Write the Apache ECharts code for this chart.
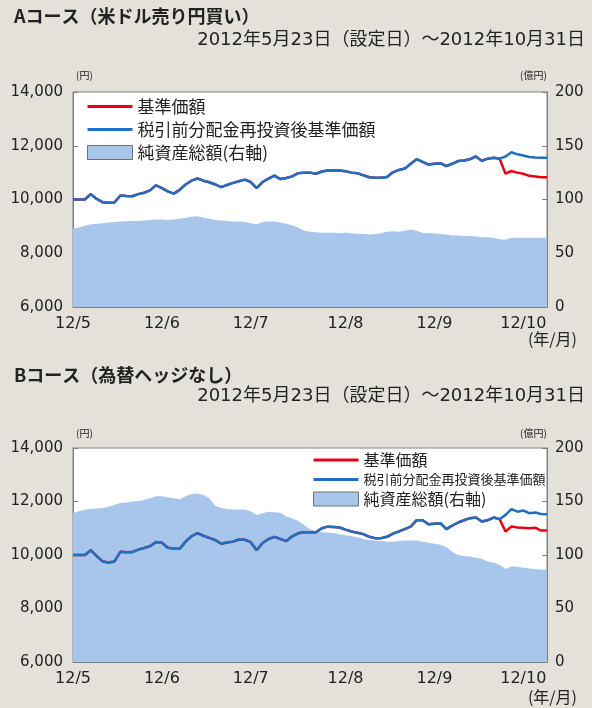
<!DOCTYPE html>
<html><head><meta charset="utf-8">
<script src="https://cdn.jsdelivr.net/npm/echarts@6/dist/echarts.min.js"></script>
<style>html,body{margin:0;padding:0;background:#e3e1da}#c{width:592px;height:708px}</style>
</head><body><div id="c"></div>
<script>
const monthLabels = ['12/5','12/6','12/7','12/8','12/9','12/10'];
const monthIdx = [0,15,30,46,61,76];

const blueA = [10000,10000,10000,10200,10020,9900,9880,9890,10150,10130,
  10120,10200,10250,10340,10530,10420,10300,10220,10360,10560,
  10700,10780,10700,10640,10560,10460,10540,10620,10680,10740,
  10650,10420,10650,10780,10890,10760,10800,10860,10980,11000,
  11000,10960,11040,11082,11082,11082,11050,11000,10980,10900,
  10830,10810,10810,10840,11010,11100,11150,11330,11500,11400,
  11300,11330,11350,11240,11330,11430,11450,11500,11600,11440,
  11520,11550,11520,11600,11760,11680,11640,11580,11560,11550,11550];
const redA = [10000,10000,10000,10200,10020,9900,9880,9890,10150,10130,
  10120,10200,10250,10340,10530,10420,10300,10220,10360,10560,
  10700,10780,10700,10640,10560,10460,10540,10620,10680,10740,
  10650,10420,10650,10780,10890,10760,10800,10860,10980,11000,
  11000,10960,11040,11082,11082,11082,11050,11000,10980,10900,
  10830,10810,10810,10840,11010,11100,11150,11330,11500,11400,
  11300,11330,11350,11240,11330,11430,11450,11500,11600,11440,
  11520,11550,11520,10960,11060,11000,10960,10880,10860,10830,10830];
const areaA = [73,74,75.5,77,77.5,78,78.5,79,79.5,79.8,
  80,80,80.5,81,81.5,81.5,81,81.5,82,83,
  84,84.5,83,82,81,80.5,80,79.5,79.5,79,
  78,77,79,79.5,79.5,78.5,77.5,76,74,71,
  70,69.5,69,69,69,68.5,69,68.5,68,68,
  67.5,68,68.5,70,70.5,70,71,72,71,69,
  68.5,68.5,68,67.5,66.5,66.5,66,66,65.5,65,
  65,64.5,63,62.5,64.5,64.5,64.5,64.5,64.5,64.5,64.5];

const blueB = [10000,10000,10000,10180,9960,9760,9720,9760,10120,10100,
  10110,10200,10260,10330,10490,10460,10270,10240,10230,10500,
  10700,10820,10720,10640,10560,10420,10470,10500,10580,10570,
  10480,10180,10450,10600,10680,10600,10520,10700,10810,10850,
  10850,10850,11000,11060,11050,11027,10950,10880,10830,10780,
  10680,10630,10630,10680,10800,10880,10970,11064,11300,11300,
  11150,11170,11190,10966,11100,11215,11300,11378,11400,11250,
  11300,11400,11340,11500,11715,11620,11663,11565,11590,11530,11528];
const redB = [10000,10000,10000,10180,9960,9760,9720,9760,10120,10100,
  10110,10200,10260,10330,10490,10460,10270,10240,10230,10500,
  10700,10820,10720,10640,10560,10420,10470,10500,10580,10570,
  10480,10180,10450,10600,10680,10600,10520,10700,10810,10850,
  10850,10850,11000,11060,11050,11027,10950,10880,10830,10780,
  10680,10630,10630,10680,10800,10880,10970,11064,11300,11300,
  11150,11170,11190,10966,11100,11215,11300,11378,11400,11250,
  11300,11400,11340,10877,11064,11030,11020,11004,11020,10914,10914];
const areaB = [139,141,142.5,143,143.5,144,145,147,148.5,149,
  150,150.5,151.5,153,155,155,154,153,152,155,
  157,157.5,156,153,146,144,143,142.5,142.5,142.5,
  141,137.5,139,140.5,140,139.5,136,134,132,128,
  124,122.5,121.5,121,120.5,119.5,118.5,117.5,116.5,115,
  114,113.5,113,112.5,112.5,113,113.5,113.5,113.5,112.5,
  111.5,110.5,109.5,107.5,103,100,99,98.5,97.5,96.5,
  94,93,91,87,89.5,89,88,87.5,87,86.5,86.5];

const seriesNames = ['基準価額','税引前分配金再投資後基準価額','純資産総額(右軸)'];
const cats = blueA.map((_, i) => String(i));

const FONT = '"Noto Sans CJK JP", sans-serif';
const NUMFONT = '"DejaVu Sans", "Noto Sans CJK JP", sans-serif';
const RED = '#e60012', BLUE = '#1f6fc4', AREA = '#a8c6ec', AXIS = '#808080', TXT = '#222';
const LINE_ICON = 'path://M0,0H45V3H0Z';

const grids = [
  {left: 73, right: 45, top: 92, height: 215},
  {left: 73, right: 45, top: 448, height: 214}
];

function xAxis(gi) {
  const show = (i) => monthIdx.indexOf(i) >= 0;
  return {
    type: 'category', gridIndex: gi, data: cats, boundaryGap: false,
    axisLine: {lineStyle: {color: AXIS}},
    axisTick: {inside: true, length: 5, interval: (i) => show(i), lineStyle: {color: AXIS}},
    axisLabel: {interval: (i) => show(i), formatter: (v, i) => monthLabels[monthIdx.indexOf(i)] || '',
      color: TXT, fontSize: 16, fontFamily: NUMFONT, margin: 9},
    splitLine: {show: false}
  };
}
function yLeft(gi) {
  return {type: 'value', gridIndex: gi, min: 6000, max: 14000, interval: 2000, position: 'left',
    axisLine: {show: true, lineStyle: {color: AXIS}},
    axisTick: {show: true, inside: true, length: 5, lineStyle: {color: AXIS}},
    axisLabel: {formatter: (v) => v.toLocaleString('en-US'), color: TXT, fontSize: 15, fontFamily: NUMFONT, margin: 10},
    splitLine: {show: false}};
}
function yRight(gi) {
  return {type: 'value', gridIndex: gi, min: 0, max: 200, interval: 50, position: 'right',
    axisLine: {show: true, lineStyle: {color: AXIS}},
    axisTick: {show: true, inside: true, length: 5, lineStyle: {color: AXIS}},
    axisLabel: {color: TXT, fontSize: 15, fontFamily: NUMFONT, margin: 8},
    splitLine: {show: false}};
}
function seriesFor(gi, red, blue, area) {
  return [
    {name: seriesNames[2], type: 'line', xAxisIndex: gi, yAxisIndex: gi * 2 + 1, data: area,
      symbol: 'none', lineStyle: {width: 0, color: AREA}, itemStyle: {color: AREA},
      areaStyle: {color: AREA, opacity: 1}, z: 1},
    {name: seriesNames[0], type: 'line', xAxisIndex: gi, yAxisIndex: gi * 2, data: red,
      symbol: 'none', lineStyle: {width: 2.5, color: RED}, itemStyle: {color: RED}, z: 3},
    {name: seriesNames[1], type: 'line', xAxisIndex: gi, yAxisIndex: gi * 2, data: blue,
      symbol: 'none', lineStyle: {width: 2.5, color: BLUE}, itemStyle: {color: BLUE}, z: 4}
  ];
}
function legendFor(left, top, gap, size, small) {
  return {
    left: left, top: top, orient: 'vertical', itemGap: gap, itemWidth: 45, itemHeight: 14, padding: 0,
    selectedMode: false,
    textStyle: {fontSize: size, color: TXT, fontFamily: FONT},
    data: [
      {name: seriesNames[0], icon: LINE_ICON, itemStyle: {color: RED}},
      {name: seriesNames[1], icon: LINE_ICON, itemStyle: {color: BLUE}, textStyle: small ? {fontSize: 13} : {}},
      {name: seriesNames[2], icon: 'rect', itemStyle: {color: AREA, borderColor: '#707070', borderWidth: 1}}
    ]
  };
}
function txt(text, pos, size, bold, fam) {
  return Object.assign({text: text, padding: 0,
    textStyle: {fontSize: size, fontWeight: bold ? 'bold' : 'normal', color: TXT, fontFamily: fam || FONT}}, pos);
}

const option = {
  backgroundColor: '#e3e1da',
  animation: false,
  title: [
    txt('Aコース（米ドル売り円買い）', {left: 14, top: 7}, 18, true),
    txt('2012年5月23日（設定日）～2012年10月31日', {right: 7, top: 31}, 18, false, NUMFONT),
    txt('(円)', {left: 76, top: 70}, 10, false),
    txt('(億円)', {left: 520, top: 70}, 10, false),
    txt('(年/月)', {right: 15, top: 331}, 16, false),
    txt('Bコース（為替ヘッジなし）', {left: 14, top: 366}, 18, true),
    txt('2012年5月23日（設定日）～2012年10月31日', {right: 7, top: 387}, 18, false, NUMFONT),
    txt('(円)', {left: 76, top: 428}, 10, false),
    txt('(億円)', {left: 520, top: 428}, 10, false),
    txt('(年/月)', {right: 15, top: 689}, 16, false)
  ],
  legend: [legendFor(87, 98, 6, 17, false), legendFor(313, 452, 5, 16, true)],
  grid: grids.map(g => Object.assign({show: true, backgroundColor: '#ffffff', borderColor: AXIS, borderWidth: 1}, g)),
  xAxis: [xAxis(0), xAxis(1)],
  yAxis: [yLeft(0), yRight(0), yLeft(1), yRight(1)],
  series: seriesFor(0, redA, blueA, areaA).concat(seriesFor(1, redB, blueB, areaB))
};
const chart = echarts.init(document.getElementById('c'), null, {renderer: 'canvas'});
chart.setOption(option);
</script></body></html>
